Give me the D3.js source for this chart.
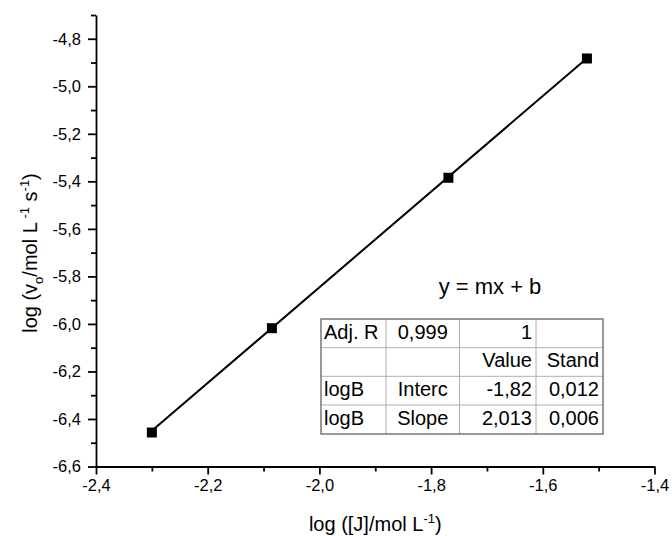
<!DOCTYPE html>
<html><head><meta charset="utf-8">
<script src="https://cdn.jsdelivr.net/npm/d3@7"></script>
<style>body{margin:0;background:#fff}svg{display:block}text{font-family:"Liberation Sans",Arial,sans-serif;fill:#000}</style>
</head><body><svg id="c" width="672" height="536"></svg>
<script>
const xValues = [-2.30, -2.085, -1.769, -1.521];
const yValues = [-6.457, -6.018, -5.385, -4.883];
const xTicks = [-2.4, -2.2, -2.0, -1.8, -1.6, -1.4];
const yTicks = [-6.6, -6.4, -6.2, -6.0, -5.8, -5.6, -5.4, -5.2, -5.0, -4.8];
const fitSlope = 2.013, fitIntercept = -1.82;
const tableRows = [
  ["Adj. R", "0,999", "1", ""],
  ["", "", "Value", "Stand"],
  ["logB", "Interc", "-1,82", "0,012"],
  ["logB", "Slope", "2,013", "0,006"]
];
const equation = "y = mx + b";

const svg = d3.select("#c");
const L = 96, R = 654.5, T = 15, B = 466.5;
const x = d3.scaleLinear().domain([-2.4, -1.4]).range([L, R]);
const y = d3.scaleLinear().domain([-6.6, -4.7]).range([B, T]);
const fmt = d => d3.format(".1f")(d).replace(".", ",").replace("−","-");

const xMinor = d3.range(-2.3, -1.4, 0.2);
const yMinor = d3.range(-6.5, -4.65, 0.2);

const gx = svg.append("g").attr("transform", `translate(0,${B})`);
gx.call(d3.axisBottom(x).tickValues(xTicks).tickFormat(fmt).tickSize(8).tickPadding(5).tickSizeOuter(0));
gx.append("g").call(d3.axisBottom(x).tickValues(xMinor).tickFormat("").tickSize(5).tickSizeOuter(0)).select(".domain").remove();
const gy = svg.append("g").attr("transform", `translate(${L},0)`);
gy.call(d3.axisLeft(y).tickValues(yTicks).tickFormat(fmt).tickSize(8).tickPadding(7).tickSizeOuter(0));
gy.append("g").call(d3.axisLeft(y).tickValues(yMinor).tickFormat("").tickSize(5).tickSizeOuter(0)).select(".domain").remove();
svg.selectAll(".domain, .tick line").attr("stroke", "#000").attr("stroke-width", 1.8);
svg.selectAll(".tick text").style("font-size", "16.5px").attr("fill", "#000");

const x0 = d3.min(xValues), x1 = d3.max(xValues);
svg.append("line")
  .attr("x1", x(x0)).attr("y1", y(fitSlope * x0 + fitIntercept))
  .attr("x2", x(x1)).attr("y2", y(fitSlope * x1 + fitIntercept))
  .attr("stroke", "#000").attr("stroke-width", 2);

const s = 10;
svg.selectAll("rect.pt").data(xValues).join("rect").attr("class", "pt")
  .attr("x", (d) => x(d) - s / 2).attr("y", (d, i) => y(yValues[i]) - s / 2)
  .attr("width", s).attr("height", s).attr("fill", "#000");

const xt = svg.append("text").attr("x", (L + R) / 2).attr("y", 531).attr("text-anchor", "middle").style("font-size", "20px");
xt.append("tspan").text("log ([J]/mol L");
xt.append("tspan").attr("dy", -8).style("font-size", "13px").text("-1");
xt.append("tspan").attr("dy", 8).text(")");

const yt = svg.append("text").attr("transform", `translate(37,253) rotate(-90)`).attr("text-anchor", "middle").style("font-size", "20px");
yt.append("tspan").text("log (v");
yt.append("tspan").attr("dy", 6).style("font-size", "13px").text("o");
yt.append("tspan").attr("dy", -6).text("/mol L");
yt.append("tspan").attr("dy", -8).style("font-size", "13px").text(" -1");
yt.append("tspan").attr("dy", 8).text(" s");
yt.append("tspan").attr("dy", -8).style("font-size", "13px").text("-1");
yt.append("tspan").attr("dy", 8).text(")");

svg.append("text").attr("x", 490).attr("y", 294).attr("text-anchor", "middle").style("font-size", "22px").text(equation);

const colX = [321, 386, 459.5, 536, 603];
const rowY = [319, 347.7, 376.3, 405, 434];
const tg = svg.append("g");
tg.selectAll("line.v").data(colX.slice(1, -1)).join("line").attr("x1", d => d).attr("x2", d => d)
  .attr("y1", rowY[0]).attr("y2", rowY[4]).attr("stroke", "#b0b0b0").attr("stroke-width", 1);
tg.selectAll("line.h").data(rowY.slice(1, -1)).join("line").attr("y1", d => d).attr("y2", d => d)
  .attr("x1", colX[0]).attr("x2", colX[4]).attr("stroke", "#b0b0b0").attr("stroke-width", 1);
tg.append("rect").attr("x", colX[0]).attr("y", rowY[0]).attr("width", colX[4] - colX[0]).attr("height", rowY[4] - rowY[0])
  .attr("fill", "none").attr("stroke", "#555").attr("stroke-width", 1.2);
tableRows.forEach((row, r) => {
  row.forEach((cell, c) => {
    if (!cell) return;
    let tx, anchor;
    if (c === 0) { tx = colX[0] + 3; anchor = "start"; }
    else if (c === 1) { tx = (colX[1] + colX[2]) / 2; anchor = "middle"; }
    else { tx = colX[c + 1] - 4; anchor = "end"; }
    tg.append("text").attr("x", tx).attr("y", rowY[r] + 19.5).attr("text-anchor", anchor)
      .style("font-size", "20px").text(cell);
  });
});
</script></body></html>
